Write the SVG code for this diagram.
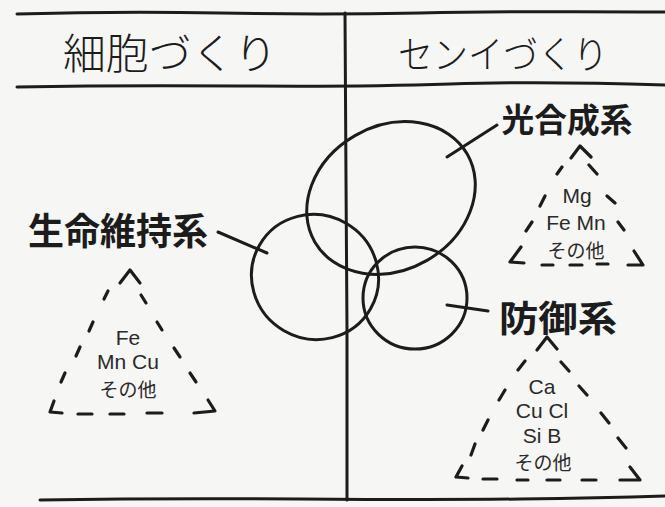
<svg xmlns="http://www.w3.org/2000/svg" width="665" height="507" viewBox="0 0 665 507">
<defs>
<style>
.ln{fill:none;stroke:#1c1c1c;stroke-width:3;stroke-linecap:round;stroke-linejoin:round}
.dash{fill:none;stroke:#1c1c1c;stroke-width:3.2;stroke-linecap:round;stroke-linejoin:round}
.hd{font-family:"Noto Sans CJK JP","Noto Sans",sans-serif;font-weight:300;fill:#1c1c1c}
.lb{font-family:"Noto Sans CJK JP","Noto Sans",sans-serif;font-weight:700;fill:#1c1c1c}
.el{font-family:"Liberation Sans","Noto Sans CJK JP",sans-serif;font-size:21px;fill:#2a2a2a;text-anchor:middle}
.jp{font-family:"Noto Sans CJK JP",sans-serif;font-size:19px;fill:#2a2a2a;text-anchor:middle}
</style>
</defs>
<rect width="665" height="507" fill="#f6f6f4"/>

<g id="table">
<path class="ln" d="M17,14 Q120,11 220,13 T420,13 T665,12"/>
<path class="ln" d="M17,87 Q120,85 240,86 T450,84 T665,85"/>
<path class="ln" d="M345,13 L346,180 L347,330 L347,500"/>
<path class="ln" d="M40,500 Q160,498 300,499 T520,499 T665,496"/>
</g>

<g id="headers">
<text class="hd" x="170" y="50" font-size="42" text-anchor="middle" dominant-baseline="central" textLength="214" lengthAdjust="spacingAndGlyphs">細胞づくり</text>
<text class="hd" x="503" y="51" font-size="38" text-anchor="middle" dominant-baseline="central" textLength="210" lengthAdjust="spacingAndGlyphs">センイづくり</text>
</g>

<g id="connectors">
<path class="ln" d="M218,232 L267,253"/>
<path class="ln" d="M447,157 L497,125"/>
<path class="ln" d="M447,305 L488,311"/>
</g>

<g id="photosynthesis">
<ellipse class="ln" cx="391" cy="198" rx="88" ry="72" transform="rotate(-30 391 198)"/>
<text class="lb" x="567" y="118" font-size="33" text-anchor="middle" dominant-baseline="central" textLength="131" lengthAdjust="spacingAndGlyphs">光合成系</text>
<path class="dash" d="M571,158 L580,146 L591,157 M562,167 L557,174 M545,196 L540,206 M532,222 L526,231 M521,247 L510,262 L524,263 M542,265 L553,265 M570,265 L582,265 M597,264 L608,264 M628,265 L643,265 L634,251 M589,165 L597,174 M607,196 L615,203 M618,222 L624,230"/>
<text class="el" x="577" y="203">Mg</text>
<text class="el" x="576" y="230">Fe Mn</text>
<text class="jp" x="576" y="258">その他</text>
</g>

<g id="life">
<ellipse class="ln" cx="315" cy="277" rx="64" ry="62" transform="rotate(30 315 277)"/>
<text class="lb" x="118" y="229" font-size="37" text-anchor="middle" dominant-baseline="central" textLength="180" lengthAdjust="spacingAndGlyphs">生命維持系</text>
<path class="dash" d="M120,283 L130,270 L140,283 M108,291 L104,299 M93,322 L89,331 M80,347 L76,356 M65,373 L61,382 M54,401 L50,412 L62,413 M78,414 L92,414 M110,414 L124,414 M147,413 L162,413 M194,413 L215,411 L208,400 M141,295 L146,303 M157,322 L162,330 M174,348 L180,357 M190,373 L196,382"/>
<text class="el" x="128" y="345">Fe</text>
<text class="el" x="128" y="369">Mn Cu</text>
<text class="jp" x="128" y="397">その他</text>
</g>

<g id="defense">
<ellipse class="ln" cx="415" cy="298" rx="52" ry="51"/>
<text class="lb" x="558" y="316" font-size="36" text-anchor="middle" dominant-baseline="central" textLength="118" lengthAdjust="spacingAndGlyphs">防御系</text>
<path class="dash" d="M537,350 L547,337 L557,349 M525,361 L518,370 M505,390 L499,400 M488,420 L483,430 M475,444 L471,455 M462,466 L456,477 L468,478 M483,479 L497,479 M517,480 L528,480 M547,480 L560,480 M582,480 L596,480 M620,480 L640,480 L630,467 M561,362 L569,371 M579,386 L587,395 M601,413 L609,423 M618,438 L626,448"/>
<text class="el" x="542" y="394">Ca</text>
<text class="el" x="542" y="418">Cu Cl</text>
<text class="el" x="542" y="443">Si B</text>
<text class="jp" x="543" y="470">その他</text>
</g>
</svg>
